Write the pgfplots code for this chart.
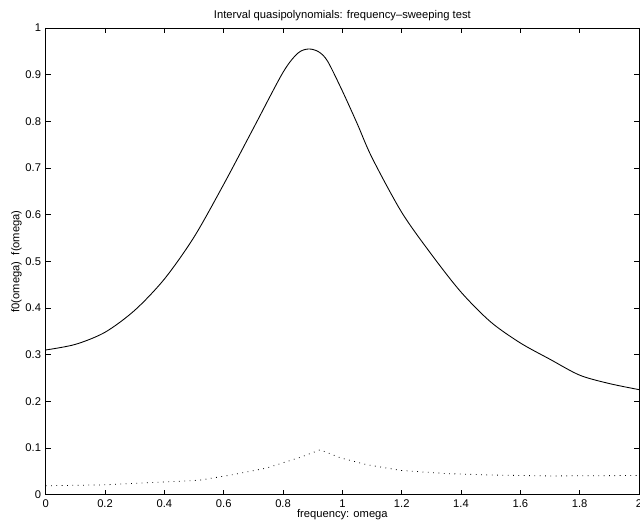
\documentclass[border=0pt]{standalone}
\usepackage{pgfplots}
\pgfplotsset{compat=1.18}
\usepackage{fontspec}
\setmainfont{Liberation Sans}
\usetikzlibrary{calc}
\begin{document}
\begin{tikzpicture}
\begin{axis}[
  scale only axis,
  width=445pt, height=350pt,
  xmin=0, xmax=2, ymin=0, ymax=1,
  xtick={0,0.2,...,2.01},
  ytick={0,0.1,...,1.01},
  xticklabels={0,0.2,0.4,0.6,0.8,1,1.2,1.4,1.6,1.8,2},
  yticklabels={0,0.1,0.2,0.3,0.4,0.5,0.6,0.7,0.8,0.9,1},
  tick align=inside,
  major tick length=3.75pt,
  tick style={black, line width=0.6pt},
  axis line style={black, line width=0.7pt},
  ticklabel style={font=\fontsize{8.4}{10}\selectfont},
  /pgf/number format/assume math mode=true,
  title={Interval quasipolynomials: frequency--sweeping test},
  title style={font=\fontsize{8.4}{10}\selectfont, yshift=-4pt},
  xlabel={frequency: omega},
  xlabel style={font=\fontsize{8.4}{10}\selectfont, yshift=5pt},
  ylabel={f0(omega)\ \ f(omega)},
  ylabel style={font=\fontsize{8.4}{10}\selectfont, yshift=-4pt},
]
\addplot[black, line width=0.65pt, smooth] table {
x y
0 0.310
0.1 0.322
0.2 0.348
0.3 0.395
0.4 0.462
0.5 0.552
0.6 0.665
0.7 0.785
0.8 0.905
0.85 0.946
0.886 0.955
0.92 0.949
0.95 0.929
1.0 0.865
1.05 0.795
1.1 0.722
1.2 0.605
1.3 0.515
1.4 0.434
1.5 0.370
1.6 0.325
1.7 0.290
1.8 0.256
1.9 0.238
2.0 0.225
};
\addplot[black, line width=0.6pt, dash pattern=on 0.6pt off 3.4pt] table {
x y
0 0.019
0.2 0.021
0.4 0.027
0.52 0.031
0.633 0.043
0.745 0.057
0.858 0.080
0.925 0.096
0.993 0.079
1.083 0.064
1.195 0.052
1.352 0.045
1.5 0.042
1.7 0.040
2.0 0.041
};
\end{axis}
\pgfresetboundingbox
\path ($(current axis.south west)+(-34.3pt,-27.75pt)$) rectangle ($(current axis.north east)+(0.75pt,21pt)$);
\end{tikzpicture}
\end{document}
